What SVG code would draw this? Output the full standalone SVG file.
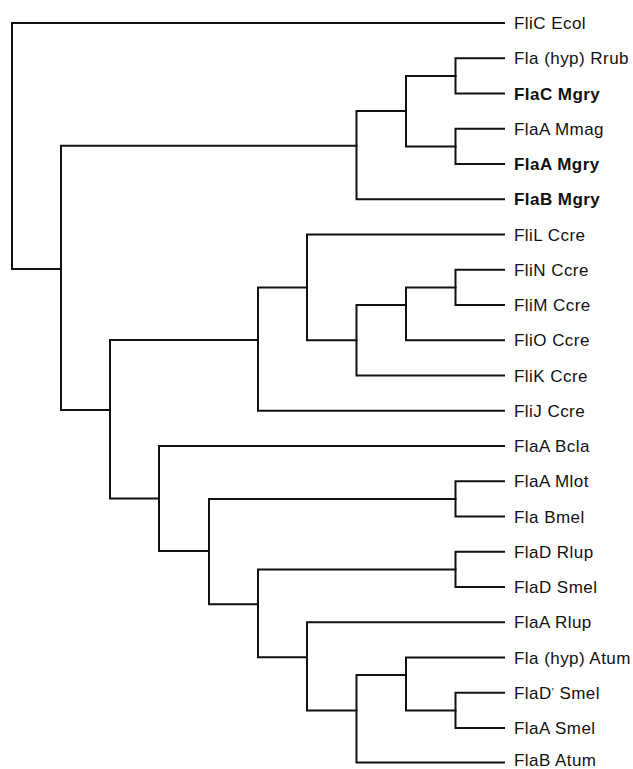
<svg xmlns="http://www.w3.org/2000/svg" width="633" height="769" viewBox="0 0 633 769">
<style>
.e{fill:none;stroke:#111;stroke-width:2;stroke-linejoin:miter;stroke-linecap:square}
.t{font-family:"Liberation Sans",Arial,sans-serif;font-size:17px;letter-spacing:0.45px;fill:#111}
.b{font-weight:bold}
</style>
<rect width="633" height="769" fill="#fff"/>
<g id="connectors">
<path class="e" d="M504 23 H12 V269 H61"/>
<path class="e" d="M356.5 145.7 H61 V410 H110"/>
<path class="e" d="M406 111 H356.5 V199.25 H504"/>
<path class="e" d="M455.5 76 H406 V146.4 H455.5"/>
<path class="e" d="M504 58.25 H455.5 V93.5 H504"/>
<path class="e" d="M504 128.75 H455.5 V164 H504"/>
<path class="e" d="M258 340 H110 V498.5 H159"/>
<path class="e" d="M307 287.4 H258 V410.75 H504"/>
<path class="e" d="M504 234.5 H307 V340.25 H356.5"/>
<path class="e" d="M406 305 H356.5 V375.5 H504"/>
<path class="e" d="M455.5 287.4 H406 V340.25 H504"/>
<path class="e" d="M504 269.75 H455.5 V305 H504"/>
<path class="e" d="M504 446 H159 V551 H209"/>
<path class="e" d="M455.5 498.9 H209 V604.3 H258"/>
<path class="e" d="M504 481.25 H455.5 V516.5 H504"/>
<path class="e" d="M455.5 569.4 H258 V657.3 H307"/>
<path class="e" d="M504 551.75 H455.5 V587 H504"/>
<path class="e" d="M504 622.25 H307 V710.4 H356.5"/>
<path class="e" d="M406 675 H356.5 V762.5 H504"/>
<path class="e" d="M504 657.5 H406 V710.4 H455.5"/>
<path class="e" d="M504 692.75 H455.5 V728 H504"/>
</g>
<g id="FliC_Ecol"><text class="t" x="514" y="29">FliC Ecol</text></g>
<g id="Fla_hyp_Rrub"><text class="t" x="514" y="64.25">Fla (hyp) Rrub</text></g>
<g id="FlaC_Mgry"><text class="t b" x="514" y="99.5">FlaC Mgry</text></g>
<g id="FlaA_Mmag"><text class="t" x="514" y="134.75">FlaA Mmag</text></g>
<g id="FlaA_Mgry"><text class="t b" x="514" y="170">FlaA Mgry</text></g>
<g id="FlaB_Mgry"><text class="t b" x="514" y="205.25">FlaB Mgry</text></g>
<g id="FliL_Ccre"><text class="t" x="514" y="240.5">FliL Ccre</text></g>
<g id="FliN_Ccre"><text class="t" x="514" y="275.75">FliN Ccre</text></g>
<g id="FliM_Ccre"><text class="t" x="514" y="311">FliM Ccre</text></g>
<g id="FliO_Ccre"><text class="t" x="514" y="346.25">FliO Ccre</text></g>
<g id="FliK_Ccre"><text class="t" x="514" y="381.5">FliK Ccre</text></g>
<g id="FliJ_Ccre"><text class="t" x="514" y="416.75">FliJ Ccre</text></g>
<g id="FlaA_Bcla"><text class="t" x="514" y="452">FlaA Bcla</text></g>
<g id="FlaA_Mlot"><text class="t" x="514" y="487.25">FlaA Mlot</text></g>
<g id="Fla_Bmel"><text class="t" x="514" y="522.5">Fla Bmel</text></g>
<g id="FlaD_Rlup"><text class="t" x="514" y="557.75">FlaD Rlup</text></g>
<g id="FlaD_Smel"><text class="t" x="514" y="593">FlaD Smel</text></g>
<g id="FlaA_Rlup"><text class="t" x="514" y="628.25">FlaA Rlup</text></g>
<g id="Fla_hyp_Atum"><text class="t" x="514" y="663.5">Fla (hyp) Atum</text></g>
<g id="FlaDp_Smel"><text class="t" x="514" y="698.75">FlaD<tspan font-size="11" dy="-3">'</tspan><tspan dy="3"> Smel</tspan></text></g>
<g id="FlaA_Smel"><text class="t" x="514" y="734">FlaA Smel</text></g>
<g id="FlaB_Atum"><text class="t" x="514" y="766">FlaB Atum</text></g>
</svg>
